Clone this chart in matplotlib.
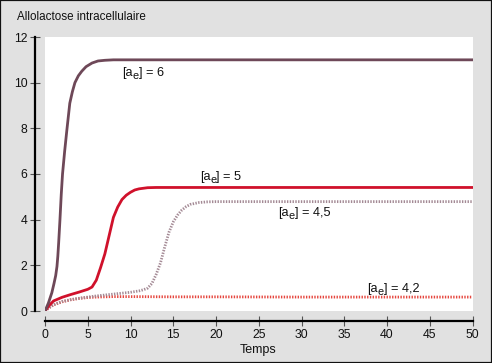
import matplotlib
matplotlib.use("Agg")
import matplotlib.pyplot as plt
from matplotlib.patches import Rectangle
from matplotlib.transforms import offset_copy

plt.rcParams['font.family'] = ['Liberation Sans', 'DejaVu Sans']

# ---- data ----
t_a6 = [0, 0.4, 0.8, 1.05, 1.25, 1.4, 1.5, 1.6, 1.75, 1.9, 2.05, 2.3, 2.55, 2.9, 3.2, 3.5, 3.9, 4.3, 4.8, 5.5, 6.2, 7.0, 8.0, 50]
y_a6 = [0, 0.35, 0.8, 1.2, 1.55, 1.95, 2.4, 3.0, 4.0, 5.1, 6.0, 7.0, 7.9, 9.1, 9.6, 10.0, 10.3, 10.5, 10.7, 10.86, 10.95, 10.98, 11.0, 11.0]

t_a5 = [0, 0.5, 1, 2, 3, 4, 5, 5.5, 6, 6.5, 7, 7.5, 8, 8.5, 9, 9.5, 10, 10.5, 11, 12, 13, 50]
y_a5 = [0, 0.25, 0.44, 0.6, 0.72, 0.83, 0.95, 1.05, 1.35, 1.9, 2.5, 3.3, 4.1, 4.55, 4.88, 5.07, 5.2, 5.3, 5.35, 5.4, 5.41, 5.41]

t_a45 = [0, 0.5, 1, 2, 3, 4, 5, 6, 7, 8, 9, 10, 11, 11.5, 12, 12.5, 13, 13.5, 14, 14.5, 15, 15.5, 16, 16.5, 17, 18, 19, 20, 50]
y_a45 = [0, 0.15, 0.28, 0.42, 0.5, 0.56, 0.61, 0.66, 0.7, 0.74, 0.78, 0.82, 0.88, 0.93, 1.0, 1.2, 1.6, 2.1, 2.8, 3.45, 3.9, 4.2, 4.42, 4.57, 4.67, 4.75, 4.78, 4.79, 4.79]

t_a42 = [0, 0.5, 1, 2, 3, 4, 5, 6, 8, 10, 15, 20, 30, 40, 50]
y_a42 = [0, 0.15, 0.27, 0.4, 0.49, 0.55, 0.59, 0.61, 0.63, 0.63, 0.62, 0.62, 0.61, 0.61, 0.61]

xticks = [0, 5, 10, 15, 20, 25, 30, 35, 40, 45, 50]
yticks = [0, 2, 4, 6, 8, 10, 12]

label_values = ["6", "5", "4,5", "4,2"]
label_pos = [(9.0, 10.42), (18.1, 5.87), (27.25, 4.29), (37.7, 0.96)]

# ---- figure ----
fig = plt.figure(figsize=(4.92, 3.63), dpi=100)
fig.patch.set_facecolor('#e1e1e1')
fig.patches.append(Rectangle((0, 0), 1, 1, transform=fig.transFigure,
                             fill=False, edgecolor='#111111', lw=1.6, zorder=10))

ax = fig.add_axes([45/492, 1 - 311/363, 427.5/492, 274/363])
ax.set_facecolor('white')

ax.plot(t_a42, y_a42, color='#e6473f', lw=2.0, ls=(0, (0.5, 0.5)), zorder=2)
ax.plot(t_a45, y_a45, color='#a48a95', lw=2.0, ls=(0, (0.5, 0.5)), zorder=2)
ax.plot(t_a5, y_a5, color='#d0112b', lw=2.0, zorder=3)
ax.plot(t_a6, y_a6, color='#6e4858', lw=2.0, zorder=3)

ax.set_xlim(0, 50)
ax.set_ylim(0, 12)
ax.set_xticks(xticks)
ax.set_yticks(yticks)

for s in ['top', 'right']:
    ax.spines[s].set_visible(False)
ax.spines['left'].set_position(('outward', 7.5))
ax.spines['bottom'].set_position(('outward', 7.5))
ax.spines['left'].set_linewidth(1.6)
ax.spines['bottom'].set_linewidth(1.6)
ax.spines['left'].set_bounds(0, 12)
ax.spines['bottom'].set_bounds(0, 50)
ax.tick_params(direction='inout', length=6.5, width=0.8, labelsize=8.8,
               colors='#555555', labelcolor='#111111', pad=2)

fig.text(17/492, 1 - 17/363, "Allolactose intracellulaire", ha='left', va='center',
         fontsize=8.4, color='#111111')
fig.text(258/492, 1 - 350/363, "Temps", ha='center', va='center', fontsize=9, color='#111111')

# curve labels "[a_e] = v" composed of pieces
renderer = fig.canvas.get_renderer()
fs = 9.2
for val, (x, y) in zip(label_values, label_pos):
    t1 = ax.text(x, y, "[a", ha='left', va='center', fontsize=fs, color='#111111')
    w1 = t1.get_window_extent(renderer).width
    tr2 = offset_copy(ax.transData, fig=fig, x=w1, y=-2.6, units='dots')
    t2 = ax.text(x, y, "e", ha='left', va='center', fontsize=fs * 0.85,
                 color='#111111', transform=tr2)
    w2 = t2.get_window_extent(renderer).width
    tr3 = offset_copy(ax.transData, fig=fig, x=w1 + w2, y=0, units='dots')
    ax.text(x, y, "] = " + val, ha='left', va='center', fontsize=fs,
            color='#111111', transform=tr3)

fig.savefig("out.png", dpi=100, facecolor=fig.get_facecolor())
